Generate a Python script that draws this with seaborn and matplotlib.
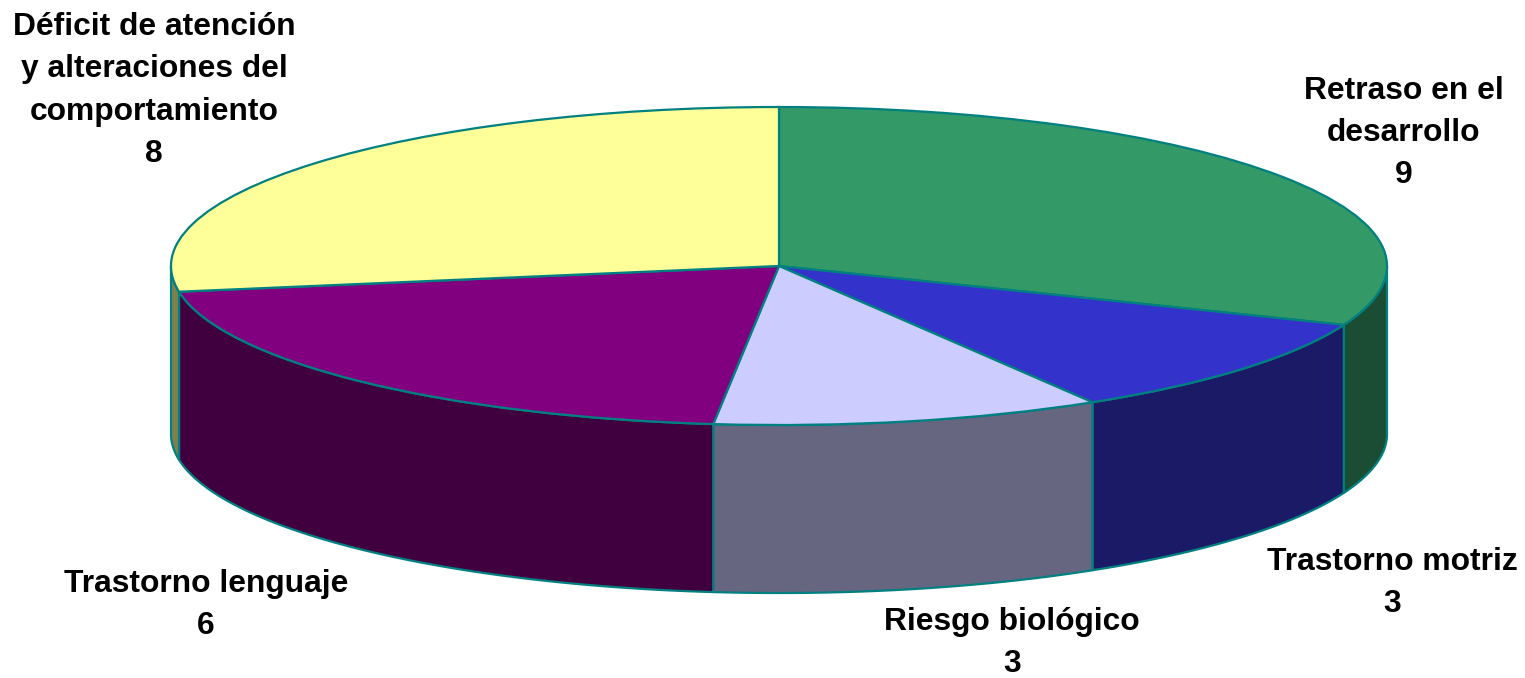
import numpy as np
import matplotlib
matplotlib.use('Agg')
import matplotlib.pyplot as plt
import seaborn as sns

# Datos del grafico
categorias = ['Retraso en el\ndesarrollo', 'Trastorno motriz', 'Riesgo biológico',
              'Trastorno lenguaje', 'Déficit de atención\ny alteraciones del\ncomportamiento']
valores = [9, 3, 3, 6, 8]
colores = ['#339966', '#3333CC', '#CCCCFF', '#800080', '#FFFF99']

# Posicion de las etiquetas en pixeles (centro del bloque)
etiqueta_x = [1404, 1392, 1012, 206, 154]
etiqueta_y = [133, 583, 643, 605, 90.5]

ANCHO, ALTO = 1525, 678
CX, CY = 779, 266       # centro de la tapa
RX, RY = 608, 159       # radios de la elipse
PROF = 168 / RY         # altura de la pared lateral
BORDE = '#008080'

sns.set_theme(style='white')
plt.rcParams['font.family'] = ['Liberation Sans', 'DejaVu Sans']
paleta = sns.color_palette(colores)

fig = plt.figure(figsize=(ANCHO / 100, ALTO / 100), dpi=100)
ax = fig.add_axes([0, 0, 1, 1])

# Paredes laterales: solo la mitad delantera es visible
acum = np.cumsum([0] + valores) / sum(valores) * 360
for i, color in enumerate(paleta):
    a0 = max(acum[i], 90)
    a1 = min(acum[i + 1], 270)
    if a1 <= a0:
        continue
    t = np.radians(np.linspace(a0, a1, 80))
    x = np.sin(t)
    y = np.cos(t)
    oscuro = tuple(c * 0.5 for c in color)
    ax.fill(np.r_[x, x[::-1]], np.r_[y, y[::-1] - PROF], facecolor=oscuro,
            edgecolor=BORDE, linewidth=1.6, joinstyle='round', zorder=1)

# Tapa del pastel
wedges, _ = ax.pie(valores, colors=paleta, startangle=90, counterclock=False,
                   radius=1, wedgeprops=dict(edgecolor=BORDE, linewidth=1.6))
for w in wedges:
    w.set_zorder(2)

# Ejes a pantalla completa para que la tapa quede como elipse
ax.set_aspect('auto')
ax.set_xlim(-CX / RX, (ANCHO - CX) / RX)
ax.set_ylim((CY - ALTO) / RY, CY / RY)
ax.axis('off')

for cat, val, ex, ey in zip(categorias, valores, etiqueta_x, etiqueta_y):
    fig.text(ex / ANCHO, 1 - ey / ALTO, f'{cat}\n{val}', ha='center', va='center',
             fontsize=22.9, fontweight='bold', color='black', linespacing=1.53)

fig.savefig('out.png', dpi=100, facecolor='white')
